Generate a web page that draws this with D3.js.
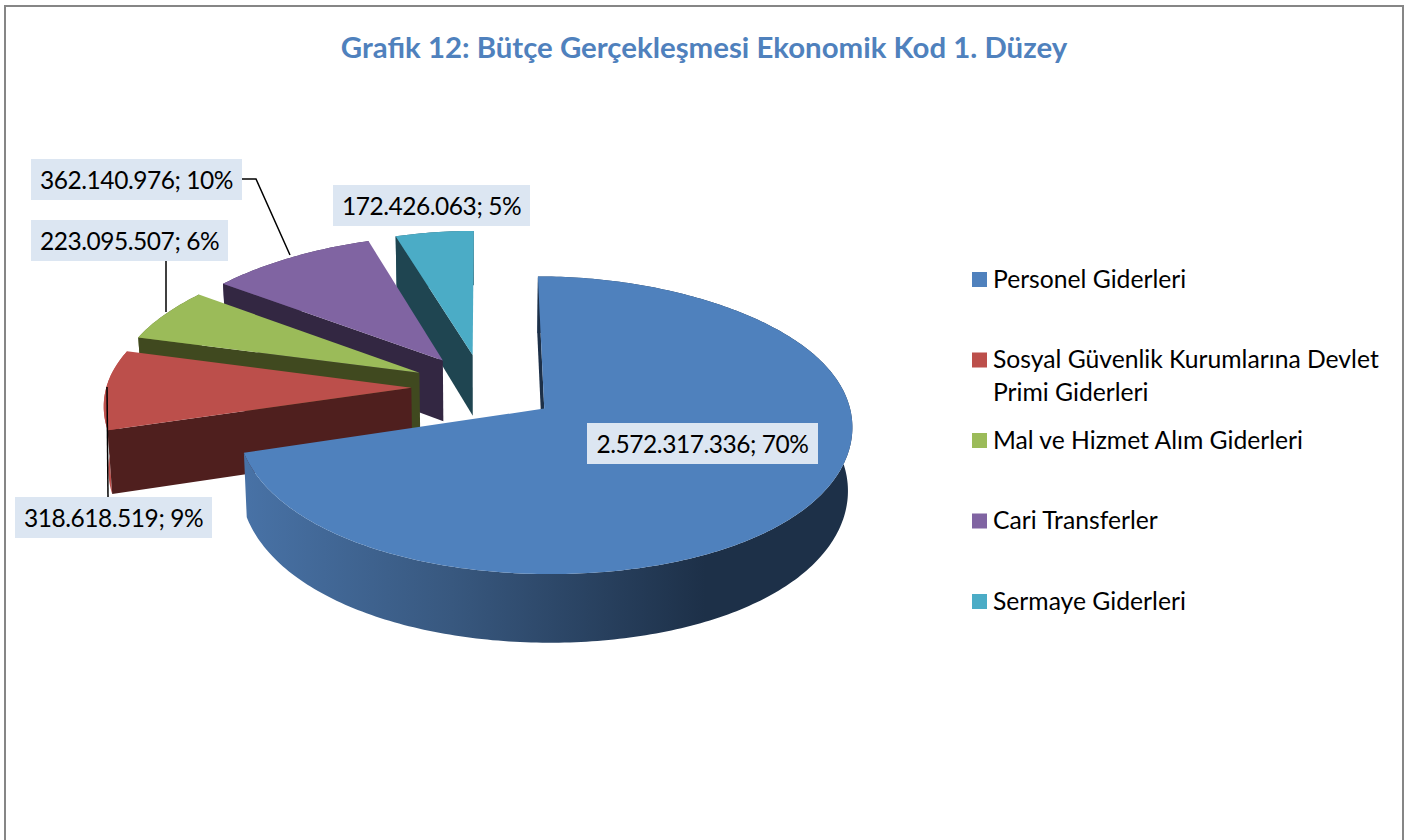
<!DOCTYPE html>
<html>
<head>
<meta charset="utf-8">
<script src="https://cdn.jsdelivr.net/npm/d3@7/dist/d3.min.js"></script>
<style>
  html, body { margin: 0; padding: 0; background: #fff; overflow: hidden; }
  text { font-family: Lato, "Open Sans", sans-serif; }
</style>
</head>
<body>
<div id="chart"></div>
<script>
// chart data
const categories = ["Personel Giderleri", "Sosyal Güvenlik Kurumlarına Devlet Primi Giderleri", "Mal ve Hizmet Alım Giderleri", "Cari Transferler", "Sermaye Giderleri"];
const values = [2572317336, 318618519, 223095507, 362140976, 172426063];
const percents = [70, 9, 6, 10, 5];
const titleText = "Grafik 12: Bütçe Gerçekleşmesi Ekonomik Kod 1. Düzey";

// colours per slice
const topColors = ["#4f81bd", "#bc4f4b", "#9bbb59", "#8064a2", "#4bacc6"];
const wallColors = ["#1d3048", "#4f1f1e", "#40491f", "#332742", "#1f4551"];
const rimColors = ["url(#blueRim)", "#c0504d", "#5f7033", "#4a3a60", "#2d6474"];

// label boxes, [x, y, w, h] of the pale background, slice order
const labelBoxes = [[587, 423, 231, 41], [15, 497, 197, 41], [31, 220, 197, 41], [31, 159, 211, 41], [333, 185, 197, 41]];
const leaders = [null, [[108, 497], [107, 387]], [[166, 261], [166, 312]], [[242, 179], [256, 179], [290, 255]], null];

// legend rows: text lines and baseline rows
const legendLines = [["Personel Giderleri"], ["Sosyal Güvenlik Kurumlarına Devlet", "Primi Giderleri"], ["Mal ve Hizmet Alım Giderleri"], ["Cari Transferler"], ["Sermaye Giderleri"]];
const legendY = [279.5, 360, 440.5, 521, 601.5];

const W = 1417, H = 840;

const svg = d3.select("#chart").append("svg")
    .attr("width", W)
    .attr("height", H);

// the pie projection: a flat disc seen in perspective, with a depth
const view = {cx: 483, cy: 387.5, rx: 305, rxK: 0.105, ry: 145.5, ryK: 20, ryBend: 1.3, shrink: 0.012, depth: 62, depthK: 0.125, explode: 0.235};
// small fit for the big slice: it reads a little narrower than the others
const sliceRadius = [0.988, 1, 1, 1, 1];
const sliceShift = [0.01, 0, 0, 0, 0];

function project(X, Y, z) {
    const s = 1 - view.shrink * z;
    const sx = view.rx * (1 + view.rxK * Y);
    const sy = view.ry + view.ryK * Math.tanh(view.ryBend * Y);
    return [
        view.cx + X * sx * s,
        view.cy + Y * sy * s + view.depth * z * (1 + view.depthK * Y)
    ];
}

// frame
svg.append("path")
    .attr("d", `M5,${H}V6H1403V${H}`)
    .attr("fill", "none")
    .attr("stroke", "#868686")
    .attr("stroke-width", 2);

// title
svg.append("text")
    .attr("x", 704)
    .attr("y", 58)
    .attr("text-anchor", "middle")
    .attr("font-size", 29.4)
    .attr("font-weight", 700)
    .attr("fill", "#4f81bd")
    .text(titleText);

// gradient of the big slice outer wall
const grad = svg.append("defs").append("linearGradient")
    .attr("id", "blueRim")
    .attr("gradientUnits", "userSpaceOnUse")
    .attr("x1", 244).attr("x2", 705)
    .attr("y1", 0).attr("y2", 0);
grad.append("stop").attr("offset", 0).attr("stop-color", "#4872a6");
grad.append("stop").attr("offset", 0.45).attr("stop-color", "#38587f");
grad.append("stop").attr("offset", 1).attr("stop-color", "#1d3048");

// pie layout, clockwise from the top
const pie = d3.pie().sort(null).startAngle(0).endAngle(2 * Math.PI);
const arcs = pie(values);
const line = d3.line();

function sliceGeometry(d, i) {
    const mid = (d.startAngle + d.endAngle) / 2;
    const ox = Math.sin(mid) * view.explode + sliceShift[i], oy = -Math.cos(mid) * view.explode;
    const r = sliceRadius[i];
    const n = Math.ceil((d.endAngle - d.startAngle) * 60);
    const angles = d3.range(n + 1).map(k => d.startAngle + (d.endAngle - d.startAngle) * k / n);
    const rim = z => angles.map(a => project(ox + r * Math.sin(a), oy - Math.cos(a), z));
    return {
        apex: z => project(ox, oy, z),
        rim: rim
    };
}

// painter's order: rear slices first
const order = [4, 3, 2, 1, 0];
const slices = svg.append("g").selectAll("g")
    .data(order.map(i => ({arc: arcs[i], i})))
    .join("g");

slices.each(function(s) {
    const g = d3.select(this);
    const geo = sliceGeometry(s.arc, s.i);
    const top = geo.rim(0), bottom = geo.rim(1);
    // outer wall
    g.append("path")
        .attr("d", line(top.concat(bottom.slice().reverse())) + "Z")
        .attr("fill", rimColors[s.i]);
    // only the cut wall at the start angle faces the viewer
    g.append("path")
        .attr("d", line([geo.apex(0), top[0], bottom[0], geo.apex(1)]) + "Z")
        .attr("fill", wallColors[s.i]);
    // top face
    g.append("path")
        .attr("d", line([geo.apex(0)].concat(top)) + "Z")
        .attr("fill", topColors[s.i]);
});

// leader lines
svg.append("g").selectAll("path")
    .data(leaders.filter(Boolean))
    .join("path")
    .attr("d", d => line(d))
    .attr("fill", "none")
    .attr("stroke", "#000")
    .attr("stroke-width", 1.5);

// data labels
const fmt = d3.formatLocale({decimal: ",", thousands: ".", grouping: [3], currency: ["", ""]}).format(",d");
const labels = svg.append("g").selectAll("g")
    .data(values.map((v, i) => ({text: `${fmt(v)}; ${percents[i]}%`, box: labelBoxes[i]})))
    .join("g");
labels.append("rect")
    .attr("x", d => d.box[0])
    .attr("y", d => d.box[1])
    .attr("width", d => d.box[2])
    .attr("height", d => d.box[3])
    .attr("fill", "#dce6f2");
labels.append("text")
    .attr("x", d => d.box[0] + d.box[2] / 2)
    .attr("y", d => d.box[1] + 29.5)
    .attr("text-anchor", "middle")
    .attr("font-size", 24.5)
    .attr("letter-spacing", -0.45)
    .attr("fill", "#000")
    .text(d => d.text);

// legend
const legend = svg.append("g").selectAll("g")
    .data(categories.map((c, i) => ({i, lines: legendLines[i], y: legendY[i]})))
    .join("g");
legend.append("rect")
    .attr("x", 972)
    .attr("y", d => d.y - 7.5)
    .attr("width", 15)
    .attr("height", 15)
    .attr("fill", d => topColors[d.i]);
legend.each(function(d) {
    d3.select(this).selectAll("text").data(d.lines).join("text")
        .attr("x", 993)
        .attr("y", (t, j) => d.y + 8 + j * 33)
        .attr("font-size", 24.7)
        .attr("fill", "#000")
        .text(t => t);
});
</script>
</body>
</html>
